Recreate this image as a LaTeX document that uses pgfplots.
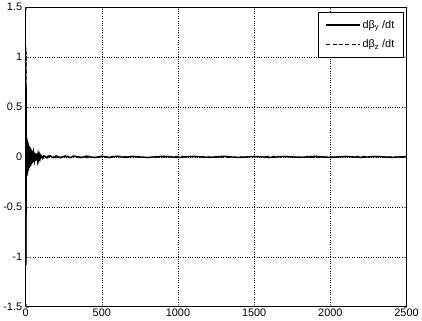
\documentclass[border=0pt]{standalone}
\usepackage{pgfplots}
\pgfplotsset{compat=1.18}
\usepackage{fontspec}
\setmainfont{Liberation Sans}
\begin{document}
\begin{tikzpicture}
\begin{axis}[
  scale only axis, width=384pt, height=302pt,
  xmin=0, xmax=2500, ymin=-1.5, ymax=1.5,
  xtick={0,500,1000,1500,2000,2500},
  ytick={-1.5,-1,-0.5,0,0.5,1,1.5},
  yticklabels={-1.5,-1,-0.5,0,0.5,1,1.5},
  xticklabels={0,500,1000,1500,2000,2500},
  tick label style={font=\fontsize{11}{12}\selectfont},
  xticklabel style={yshift=1pt},
  grid=major, major grid style={black, dotted, line width=0.5pt},
  tick align=inside, major tick length=3pt,
  axis line style={line width=0.6pt},
  legend style={at={(0.992,0.983)}, anchor=north east, draw=black, line width=0.5pt,
     font=\fontsize{11}{12}\selectfont, row sep=6pt, inner xsep=7pt, inner ysep=6pt},
  legend cell align=left,
  legend image code/.code={\draw[#1] (0pt,0pt) -- (34pt,0pt);},
]
\addplot[black, line width=1.4pt] coordinates {
(0,0) (1,1.1) (2,-1.08) (3,0.7) (4,-0.55) (5,0.19) (6,-0.2) (7,0.18) (8,-0.19) (9,0.17) (10,-0.17)
(11,0.16) (12,-0.16) (13,0.15) (14,-0.15) (15,0.14) (16,-0.14) (17,0.13) (18,-0.13) (19,0.12) (20,-0.12)
(22,0.11) (24,-0.11) (26,0.1) (28,-0.1) (30,0.09) (32,-0.09) (34,0.08) (36,-0.08) (38,0.07) (40,-0.07)
(43,0.06) (46,-0.06) (49,0.05) (52,-0.05) (55,0.045) (58,-0.045) (61,0.04) (64,-0.04) (67,0.035) (70,-0.035)
(74,0.03) (78,-0.03) (82,0.025) (86,-0.025) (90,0.02) (95,-0.02) (100,0.016) (110,-0.014) (120,0.012)
(140,-0.01) (160,0.012) (180,-0.008) (200,0.01) (230,-0.009) (260,0.01) (290,-0.008) (320,0.009)
(360,-0.008) (400,0.008) (450,-0.007) (500,0.007) (550,-0.006) (600,0.007) (650,-0.006) (700,0.006)
(800,-0.006) (900,0.007) (1000,-0.006) (1100,0.006) (1200,-0.005) (1300,0.006) (1400,-0.006)
(1500,0.005) (1600,-0.006) (1700,0.005) (1800,-0.005) (1900,0.006) (2000,-0.005) (2100,0.005)
(2200,-0.005) (2300,0.005) (2400,-0.005) (2500,0.004)
};
\addlegendentry{dβ\textsubscript{y} /dt}
\addplot[black, line width=1.2pt, dash pattern=on 4pt off 2.5pt] coordinates {
(0,0) (1,-1.0) (2,1.05) (3,-0.6) (4,0.5) (5,-0.18) (6,0.2) (7,-0.18) (8,0.18) (9,-0.16) (10,0.16)
(12,-0.15) (14,0.14) (16,-0.13) (18,0.12) (20,-0.11) (24,0.1) (28,-0.09) (32,0.08) (36,-0.07) (40,0.06)
(46,-0.05) (52,0.045) (58,-0.04) (64,0.035) (70,-0.03) (80,0.025) (90,-0.02) (100,0.015) (120,-0.012)
(150,0.01) (200,-0.008) (300,0.008) (400,-0.007) (600,0.006) (800,-0.006) (1000,0.005) (1300,-0.005)
(1600,0.005) (1900,-0.005) (2200,0.004) (2500,-0.004)
};
\addlegendentry{dβ\textsubscript{z} /dt}
\end{axis}
\end{tikzpicture}
\end{document}
